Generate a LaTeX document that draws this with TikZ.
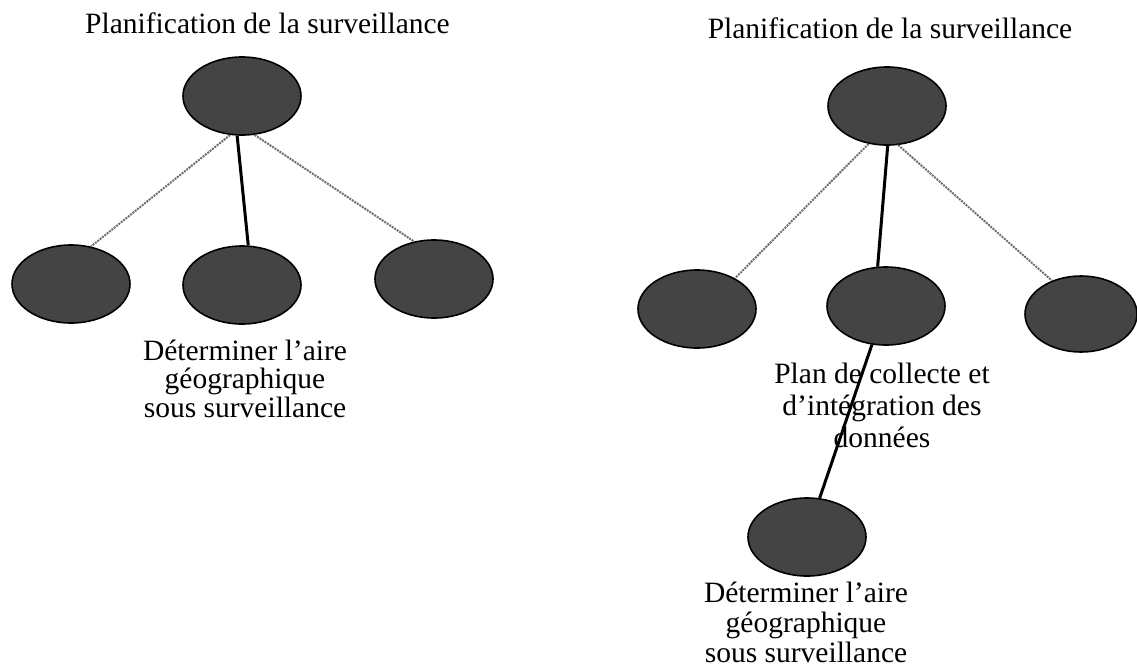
\documentclass[tikz,border=0pt]{standalone}
\usepackage{fontspec}
\setmainfont{Liberation Serif}
\usetikzlibrary{shapes.geometric}
\definecolor{blobfill}{RGB}{68,68,68}
\definecolor{dotgray}{RGB}{110,110,110}
\tikzset{
  blob/.style={ellipse, draw=black, line width=1.6pt, fill=blobfill,
    minimum width=118pt, minimum height=78pt, inner sep=0pt},
  lbl/.style={font=\fontsize{29.5}{29}\selectfont, align=center, inner sep=0pt, anchor=base},
  thinlink/.style={draw=dotgray, line width=2pt, dash pattern=on 2pt off 1pt},
  thicklink/.style={draw=black, line width=3pt}
}
\begin{document}
\begin{tikzpicture}[x=1pt, y=-1pt]
\useasboundingbox (0,0) rectangle (1137,670);
% left tree
\node[lbl] (titleL) at (267.5,33) {Planification de la surveillance};
\node[blob] (LT) at (242,96) {};
\node[blob] (LBL) at (71,284) {};
\node[blob] (LBM) at (242,285) {};
\node[blob] (LBR) at (434,279) {};
\draw[thinlink] (LT.253) -- (LBL.62);
\draw[thicklink] (LT.263) -- (LBM.81);
\draw[thinlink] (LT.288) -- (LBR.118);
\node[lbl, font=\fontsize{29.5}{28.5}\selectfont] (txtL) at (245,417) {Déterminer l’aire\\géographique\\sous surveillance};
% right tree
\node[lbl] (titleR) at (890,38) {Planification de la surveillance};
\node[blob] (RT) at (887,106) {};
\node[blob] (RBL) at (697,309) {};
\node[blob] (RBM) at (886,306) {};
\node[blob, minimum width=112pt, minimum height=76pt] (RBR) at (1081,314) {};
\node[blob] (RB) at (807,537) {};
\draw[thinlink] (RT.244) -- (RBL.39);
\draw[thicklink] (RT.271) -- (RBM.102);
\draw[thinlink] (RT.286) -- (RBR.131);
\node[lbl, font=\fontsize{29.5}{32}\selectfont] (txtR) at (882,447) {Plan de collecte et\\d’intégration des\\données};
\draw[thicklink] (RBM.250) -- (RB.72);
\node[lbl, font=\fontsize{29.5}{30}\selectfont] (txtB) at (806,662) {Déterminer l’aire\\géographique\\sous surveillance};
\end{tikzpicture}
\end{document}
